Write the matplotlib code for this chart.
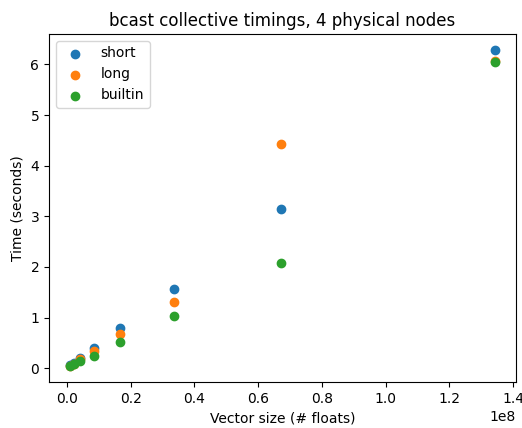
import matplotlib
matplotlib.use("Agg")
import matplotlib.pyplot as plt

sizes = [2**20, 2**21, 2**22, 2**23, 2**24, 2**25, 2**26, 2**27]
short = [0.06, 0.10, 0.21, 0.39, 0.80, 1.57, 3.15, 6.29]
long_ = [0.05, 0.09, 0.19, 0.33, 0.67, 1.30, 4.43, 6.07]
builtin = [0.04, 0.08, 0.14, 0.25, 0.52, 1.04, 2.07, 6.05]

fig, ax = plt.subplots(figsize=(5.22, 4.28), dpi=100)
fig.subplots_adjust(left=0.094, right=0.9885, top=0.9206, bottom=0.1075)
ax.scatter(sizes, short, label="short")
ax.scatter(sizes, long_, label="long")
ax.scatter(sizes, builtin, label="builtin")
ax.set_title("bcast collective timings, 4 physical nodes")
ax.set_xlabel("Vector size (# floats)")
ax.set_ylabel("Time (seconds)")
ax.legend()
fig.savefig("out.png")
